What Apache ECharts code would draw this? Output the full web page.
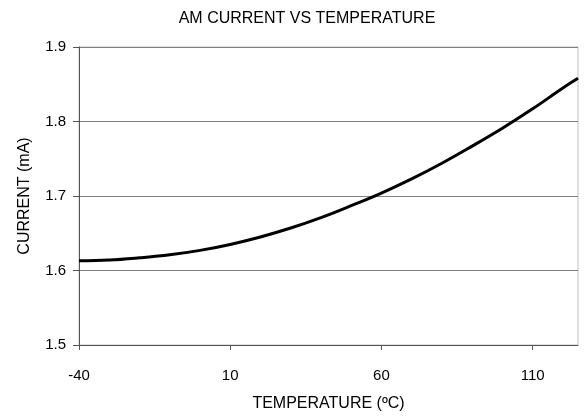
<!DOCTYPE html>
<html>
<head>
<meta charset="utf-8">
<script src="https://cdn.jsdelivr.net/npm/echarts@6/dist/echarts.min.js"></script>
<style>
  html, body { margin: 0; padding: 0; background: #fff; }
  #chart { width: 584px; height: 417px; }
</style>
</head>
<body>
<div id="chart"></div>
<script>
// values
const temps = [-40, -30, -20, -10, 0, 10, 20, 30, 40, 50, 60, 70, 80, 90, 100, 110, 120, 125];
const current = [1.613, 1.614, 1.617, 1.621, 1.627, 1.635, 1.645, 1.657, 1.671, 1.687, 1.704, 1.723, 1.744, 1.767, 1.791, 1.817, 1.845, 1.858];
const xTicks = [-40, 10, 60, 110];
const yTicks = [1.5, 1.6, 1.7, 1.8, 1.9];

const font = 'Arial, "Liberation Sans", sans-serif';
const chart = echarts.init(document.getElementById('chart'), null, { renderer: 'canvas' });

chart.setOption({
  backgroundColor: '#fff',
  animation: false,
  title: {
    text: 'AM CURRENT VS TEMPERATURE',
    left: 302,
    top: 6,
    textAlign: 'center',
    textStyle: { fontFamily: font, fontSize: 16, fontWeight: 'normal', color: '#000' }
  },
  grid: {
    left: 79,
    right: 6,
    top: 47,
    bottom: 65,
    show: true,
    borderColor: '#c0c0c0',
    borderWidth: 1
  },
  xAxis: {
    type: 'value',
    min: -40,
    max: 125,
    name: 'TEMPERATURE (ºC)',
    nameLocation: 'middle',
    nameGap: 51,
    nameTextStyle: { fontFamily: font, fontSize: 16, color: '#000' },
    axisLine: { onZero: false, lineStyle: { color: '#555', width: 1 } },
    axisTick: { show: true, length: 5, customValues: xTicks, lineStyle: { color: '#555' } },
    axisLabel: {
      customValues: xTicks,
      fontFamily: font, fontSize: 15, color: '#000', margin: 23
    },
    splitLine: { show: false }
  },
  yAxis: {
    type: 'value',
    min: 1.5,
    max: 1.9,
    interval: 0.1,
    name: 'CURRENT (mA)',
    nameLocation: 'middle',
    nameGap: 46,
    nameTextStyle: { fontFamily: font, fontSize: 16, color: '#000' },
    axisLine: { show: true, onZero: false, lineStyle: { color: '#555', width: 1 } },
    axisTick: { show: true, length: 6, lineStyle: { color: '#555' } },
    axisLabel: {
      fontFamily: font, fontSize: 15, color: '#000', margin: 13,
      formatter: v => yTicks.includes(Math.round(v * 10) / 10) ? v.toFixed(1) : ''
    },
    splitLine: { show: true, lineStyle: { color: '#808080', width: 1 } }
  },
  series: [
    {
      type: 'line',
      data: temps.map((t, i) => [t, current[i]]),
      smooth: 0.4,
      showSymbol: false,
      lineStyle: { color: '#000', width: 3 }
    }
  ]
});
</script>
</body>
</html>
